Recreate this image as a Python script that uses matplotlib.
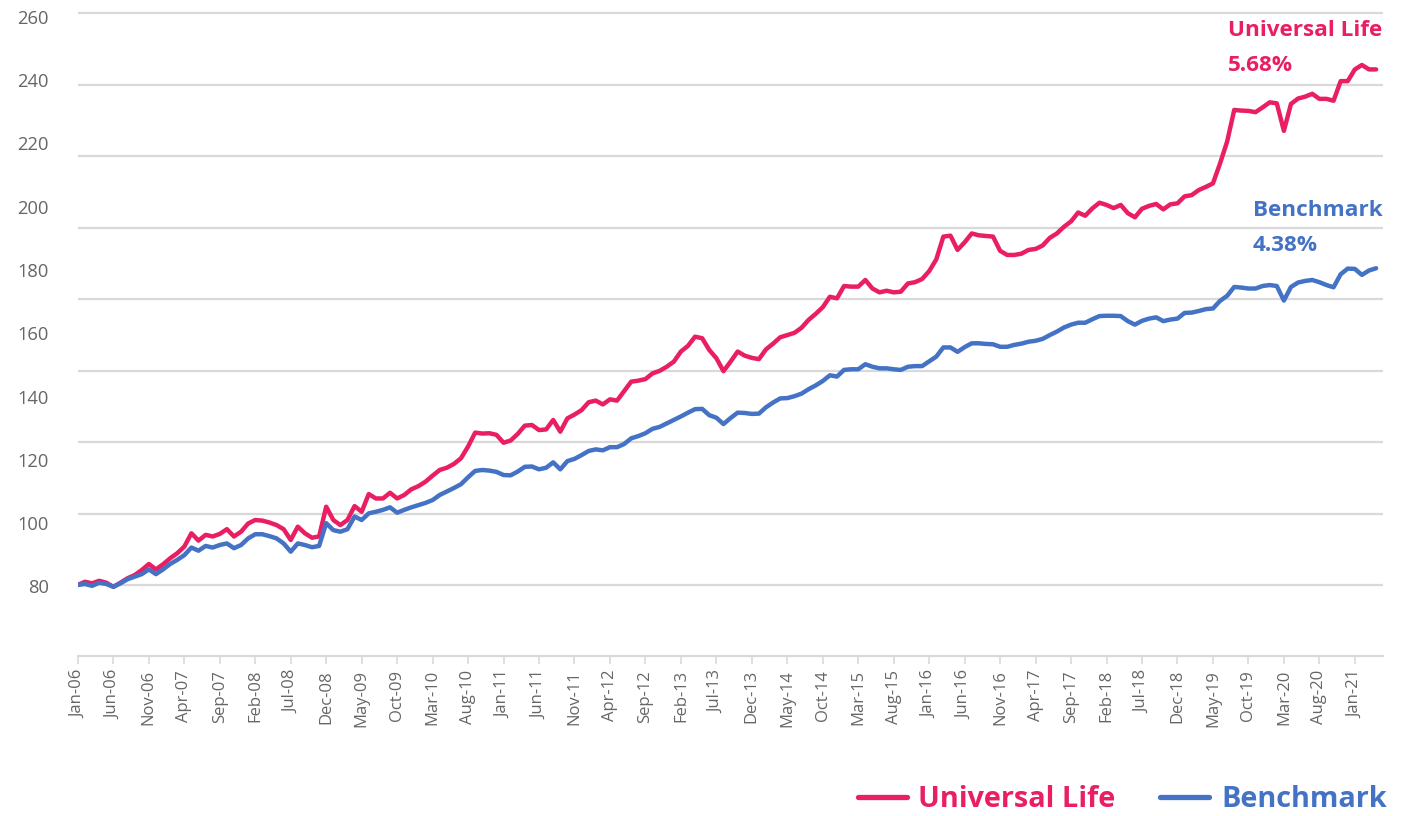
import numpy as np
import matplotlib
matplotlib.use("Agg")
import matplotlib.pyplot as plt

universal_life = [
    80.5, 81.5, 81.0, 81.8, 81.2, 79.9, 81.2, 82.6, 83.6, 85.2,
    87.1, 85.4, 87.0, 88.9, 90.5, 92.6, 96.8, 94.5, 96.3, 95.8,
    96.6, 98.1, 95.8, 97.3, 99.9, 101.0, 100.8, 100.2, 99.4, 98.1,
    94.7, 98.9, 96.8, 95.4, 95.8, 105.2, 101.0, 99.4, 101.0, 105.4,
    103.6, 109.2, 107.8, 107.8, 109.6, 107.8, 108.9, 110.7, 111.7, 113.1,
    115.0, 116.8, 117.5, 118.7, 120.5, 124.2, 128.6, 128.3, 128.4, 127.9,
    125.4, 126.1, 128.2, 130.8, 131.0, 129.4, 129.6, 132.6, 128.9, 133.1,
    134.3, 135.7, 138.2, 138.7, 137.5, 139.1, 138.7, 141.7, 144.7, 145.0,
    145.5, 147.3, 148.1, 149.4, 151.0, 154.2, 156.0, 158.9, 158.4, 154.7,
    152.1, 148.0, 151.0, 154.2, 152.9, 152.2, 151.8, 154.9, 156.7, 158.7,
    159.4, 160.1, 161.7, 164.2, 166.1, 168.2, 171.5, 171.0, 174.9, 174.7,
    174.7, 176.8, 174.1, 172.9, 173.4, 172.9, 173.1, 175.7, 176.1, 177.1,
    179.6, 183.3, 190.5, 190.8, 186.3, 188.7, 191.5, 190.9, 190.7, 190.5,
    186.0, 184.7, 184.7, 185.1, 186.3, 186.6, 187.7, 190.1, 191.5, 193.6,
    195.3, 198.1, 197.1, 199.4, 201.2, 200.5, 199.5, 200.5, 197.9, 196.6,
    199.3, 200.2, 200.8, 199.1, 200.7, 201.0, 203.2, 203.6, 205.2, 206.2,
    207.3, 213.6, 220.5, 230.5, 230.3, 230.2, 229.8, 231.3, 232.9, 232.6,
    223.9, 232.4, 234.1, 234.7, 235.6, 234.0, 234.0, 233.4, 239.6, 239.6,
    243.3, 244.7, 243.3, 243.3,
]

benchmark = [
    80.5, 80.8, 80.2, 81.2, 80.8, 79.9, 81.0, 82.3, 83.1, 83.9,
    85.4, 83.9, 85.4, 87.1, 88.4, 89.9, 92.3, 91.3, 92.8, 92.3,
    93.1, 93.6, 92.1, 93.1, 95.2, 96.5, 96.5, 95.9, 95.2, 93.6,
    91.0, 93.6, 93.1, 92.4, 92.8, 100.0, 97.8, 97.3, 98.1, 102.1,
    101.0, 103.1, 103.6, 104.2, 105.0, 103.3, 104.2, 105.0, 105.7, 106.4,
    107.3, 108.9, 110.0, 111.1, 112.3, 114.5, 116.5, 116.8, 116.6, 116.2,
    115.2, 115.1, 116.3, 117.8, 117.9, 117.0, 117.5, 119.2, 117.0, 119.6,
    120.3, 121.5, 122.8, 123.3, 123.0, 124.0, 124.0, 125.0, 126.8, 127.5,
    128.4, 129.8, 130.4, 131.5, 132.6, 133.7, 134.9, 136.0, 136.1, 134.1,
    133.3, 131.3, 133.2, 134.9, 134.8, 134.5, 134.6, 136.6, 138.1, 139.4,
    139.5, 140.1, 140.9, 142.3, 143.5, 144.9, 146.7, 146.3, 148.4, 148.6,
    148.6, 150.2, 149.4, 148.9, 148.9, 148.6, 148.4, 149.4, 149.6, 149.6,
    151.1, 152.6, 155.5, 155.5, 154.1, 155.6, 156.8, 156.8, 156.6, 156.5,
    155.7, 155.7, 156.3, 156.7, 157.3, 157.6, 158.2, 159.4, 160.5, 161.8,
    162.7, 163.3, 163.3, 164.4, 165.4, 165.5, 165.5, 165.4, 163.8, 162.7,
    163.9, 164.6, 165.0, 163.8, 164.3, 164.6, 166.4, 166.5, 167.0, 167.6,
    167.8, 170.2, 171.8, 174.6, 174.4, 174.1, 174.1, 174.9, 175.2, 174.9,
    170.3, 174.6, 176.0, 176.5, 176.8, 176.1, 175.2, 174.5, 178.6, 180.4,
    180.3, 178.4, 179.8, 180.5,
]

tick_labels = [
    "Jan-06", "Jun-06", "Nov-06", "Apr-07", "Sep-07", "Feb-08", "Jul-08",
    "Dec-08", "May-09", "Oct-09", "Mar-10", "Aug-10", "Jan-11", "Jun-11",
    "Nov-11", "Apr-12", "Sep-12", "Feb-13", "Jul-13", "Dec-13", "May-14",
    "Oct-14", "Mar-15", "Aug-15", "Jan-16", "Jun-16", "Nov-16", "Apr-17",
    "Sep-17", "Feb-18", "Jul-18", "Dec-18", "May-19", "Oct-19", "Mar-20",
    "Aug-20", "Jan-21",
]
y_tick_values = [80, 100, 120, 140, 160, 180, 200, 220, 240, 260]
series_names = ["Universal Life", "Benchmark"]
annual_returns = ["5.68%", "4.38%"]

PINK = "#E91E63"
BLUE = "#4472C4"
GRID = "#D9D9D9"
TXT = "#666666"

W, H = 1402, 816
fig = plt.figure(figsize=(W / 100, H / 100), dpi=100)
left_px, right_px, bottom_px, top_px = 77.9, 1383.2, 656.0, 10.2
ax = fig.add_axes([left_px / W, 1 - bottom_px / H,
                   (right_px - left_px) / W, (bottom_px - top_px) / H])

x = np.arange(len(universal_life))
ax.set_xlim(0, 184)
ax.set_ylim(58.05, 262)

# gridlines (rendered spacing differs slightly from label spacing in the source)
for k in range(9):
    ax.axhline(80.47 + k * 22.58, color=GRID, lw=1.6, zorder=1)

ax.plot(x, universal_life, color=PINK, lw=3.2, label=series_names[0],
        zorder=3, solid_joinstyle="round", solid_capstyle="round")
ax.plot(x, benchmark, color=BLUE, lw=3.2, label=series_names[1],
        zorder=3, solid_joinstyle="round", solid_capstyle="round")

for s in ["top", "right", "left"]:
    ax.spines[s].set_visible(False)
ax.spines["bottom"].set_color(GRID)
ax.spines["bottom"].set_linewidth(1.6)

ax.set_xticks(np.arange(0, 181, 5))
ax.set_xticklabels(tick_labels, rotation=90, fontfamily="Open Sans",
                   fontsize=12, color=TXT)
ax.tick_params(axis="x", length=6, width=1.2, color=GRID, pad=4)
ax.set_yticks(y_tick_values)
ax.set_yticklabels([str(v) for v in y_tick_values], fontfamily="Open Sans",
                   fontsize=13.2, color=TXT)
ax.tick_params(axis="y", length=0, pad=21)

bold = dict(fontfamily="Open Sans", fontweight="bold", clip_on=False)
ax.text(162.1, 255.7, series_names[0], color=PINK, fontsize=16.2,
        va="center", ha="left", **bold)
ax.text(162.1, 244.4, annual_returns[0], color=PINK, fontsize=16.2,
        va="center", ha="left", **bold)
ax.text(165.6, 198.6, series_names[1], color=BLUE, fontsize=16.2,
        va="center", ha="left", **bold)
ax.text(165.6, 187.8, annual_returns[1], color=BLUE, fontsize=16.2,
        va="center", ha="left", **bold)

leg = ax.legend(loc="center right", bbox_to_anchor=(1.0115, -0.222),
                ncol=2, frameon=False, handlelength=1.7, handletextpad=0.4,
                columnspacing=1.55, borderaxespad=0, labelcolor="linecolor",
                prop={"family": "Open Sans", "weight": "bold", "size": 20.8})
for line in leg.get_lines():
    line.set_linewidth(3.8)

fig.savefig("out.png", dpi=100)
